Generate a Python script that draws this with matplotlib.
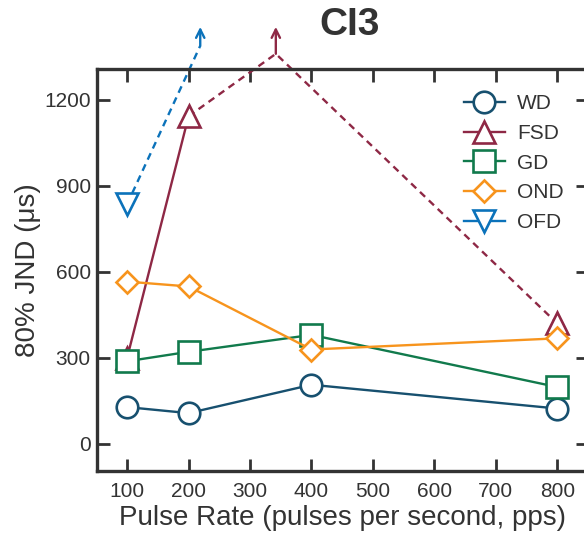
import matplotlib
matplotlib.use("Agg")
import matplotlib.pyplot as plt

plt.rcParams['font.family'] = ['Liberation Sans', 'DejaVu Sans']

rates = [100, 200, 400, 800]
wd = [128, 107, 206, 123]
gd = [288, 321, 380, 198]
ond = [566, 549, 329, 368]
fsd_x = [100, 200]
fsd_y = [300, 1143]
fsd_x800 = [800]
fsd_y800 = [420]
fsd_peak_x = 342
fsd_peak_y = 1361
ofd_x = [100]
ofd_y = [836]
ofd_arrow_x = 219
ofd_arrow_y = 1389
arrow_tip_y = 1455

xticks = [100, 200, 300, 400, 500, 600, 700, 800]
yticks = [0, 300, 600, 900, 1200]

c_wd = '#17506F'
c_fsd = '#8E2845'
c_gd = '#117A4C'
c_ond = '#F7941D'
c_ofd = '#0B72BA'
dark = '#333333'

fig = plt.figure(figsize=(5.84, 5.4), dpi=100)
ax = fig.add_axes([97/584, (540-471)/540, (588-97)/584, (471-69)/540])

ms = 15.5
mew = 1.9
lw = 1.7
common = dict(markerfacecolor='white', markeredgewidth=mew, linewidth=lw, markersize=ms)

ax.plot(rates, wd, marker='o', color=c_wd, label='WD', zorder=3, **common)
ax.plot(fsd_x, fsd_y, marker='^', color=c_fsd, label='FSD', zorder=3, **common)
ax.plot(fsd_x800, fsd_y800, marker='^', color=c_fsd, zorder=3, linestyle='none',
        markerfacecolor='white', markeredgewidth=mew, markersize=ms)
ax.plot(rates, gd, marker='s', color=c_gd, label='GD', zorder=3, **common)
ax.plot(rates, ond, marker='D', color=c_ond, label='OND', zorder=3,
        markerfacecolor='white', markeredgewidth=mew, linewidth=lw, markersize=ms*0.75)
ax.plot(ofd_x, ofd_y, marker='v', color=c_ofd, label='OFD', zorder=3, **common)

# dashed extension lines (off the chart)
ax.plot([fsd_x[-1], fsd_peak_x, fsd_x800[0]], [fsd_y[-1], fsd_peak_y, fsd_y800[0]],
        color=c_fsd, linestyle=(0, (3, 2.2)), linewidth=lw, clip_on=False, zorder=2)
ax.plot([ofd_x[0], ofd_arrow_x], [ofd_y[0], ofd_arrow_y],
        color=c_ofd, linestyle=(0, (3, 2.2)), linewidth=lw, clip_on=False, zorder=2)

for xa, ya, col in [(fsd_peak_x, fsd_peak_y, c_fsd), (ofd_arrow_x, ofd_arrow_y, c_ofd)]:
    ax.annotate('', xy=(xa, arrow_tip_y), xytext=(xa, ya), annotation_clip=False,
                arrowprops=dict(arrowstyle='->,head_length=0.6,head_width=0.3',
                                color=col, lw=lw, shrinkA=0, shrinkB=0))

ax.set_xlim(51, 850)
ax.set_ylim(-95, 1308)
ax.set_xticks(xticks)
ax.set_yticks(yticks)

for s in ['left', 'top', 'bottom', 'right']:
    ax.spines[s].set_linewidth(2.4)
    ax.spines[s].set_color(dark)

ax.tick_params(axis='both', which='major', direction='in', length=9, width=2,
               color=dark, labelcolor=dark, labelsize=15, top=True, right=True)
ax.tick_params(axis='x', pad=8)
ax.tick_params(axis='y', pad=4.5)

ax.set_xlabel('Pulse Rate (pulses per second, pps)', fontsize=20, color=dark, labelpad=3)
ax.set_ylabel('80% JND (μs)', fontsize=20, color=dark, labelpad=2)

fig.text(350/584, 1 - 25/540, 'CI3', fontsize=28, fontweight='bold', color=dark,
         ha='center', va='center')

leg = ax.legend(loc='upper left', bbox_to_anchor=(464/584, 1 - 94/540),
                bbox_transform=fig.transFigure, frameon=False, fontsize=15,
                handlelength=1.95, handletextpad=0.6, labelspacing=0.52,
                borderpad=0, borderaxespad=0, labelcolor=dark)

fig.savefig('out.png', dpi=100)
